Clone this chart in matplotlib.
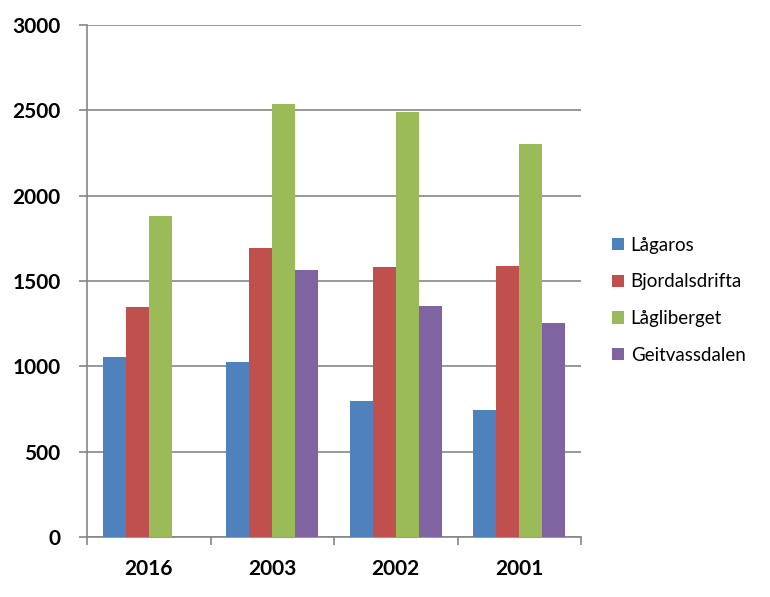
import numpy as np
import matplotlib.pyplot as plt

years = ['2016', '2003', '2002', '2001']
series = ['Lågaros', 'Bjordalsdrifta', 'Lågliberget', 'Geitvassdalen']
lagaros = [1054, 1025, 797, 744]
bjordalsdrifta = [1347, 1693, 1582, 1588]
lagliberget = [1880, 2537, 2490, 2302]
geitvassdalen = [0, 1564, 1353, 1254]
colors = ['#4F81BD', '#C0504D', '#9BBB59', '#8064A2']

plt.rcParams['font.family'] = ['Lato', 'DejaVu Sans']

fig = plt.figure(figsize=(7.7, 5.97), dpi=100)
ax = fig.add_axes([0.113, 0.1005, 0.6416, 0.8576])

x = np.arange(len(years))
w = 0.186
data = [lagaros, bjordalsdrifta, lagliberget, geitvassdalen]
for i, (vals, name, c) in enumerate(zip(data, series, colors)):
    ax.bar(x + (i - 1.5) * w, vals, w, color=c, label=name, zorder=3)

ax.set_xlim(-0.5, 3.5)
ax.set_ylim(0, 3000)
ax.set_yticks(range(0, 3001, 500))
ax.yaxis.grid(True, color='#868686', linewidth=1.2, zorder=0)
ax.set_xticks(x)
ax.set_xticklabels(years, fontsize=15, fontweight='bold')
ax.tick_params(axis='x', length=0, pad=16)
ax.set_xticks(np.arange(-0.5, 4, 1), minor=True)
ax.tick_params(axis='x', which='minor', length=6, color='#868686', width=1.2)
ax.tick_params(axis='y', length=6, color='#868686', width=1.2, labelsize=15, pad=13)
for lab in ax.get_yticklabels():
    lab.set_fontweight('bold')

for s in ['top', 'right']:
    ax.spines[s].set_visible(False)
for s in ['left', 'bottom']:
    ax.spines[s].set_color('#868686')
    ax.spines[s].set_linewidth(1.2)

fig.legend(loc='center left', bbox_to_anchor=(0.785, 0.497), frameon=False,
           fontsize=13.5, handlelength=0.65, handleheight=0.65,
           handletextpad=0.35, labelspacing=1.05, borderaxespad=0)

fig.savefig('out.png', dpi=100)
